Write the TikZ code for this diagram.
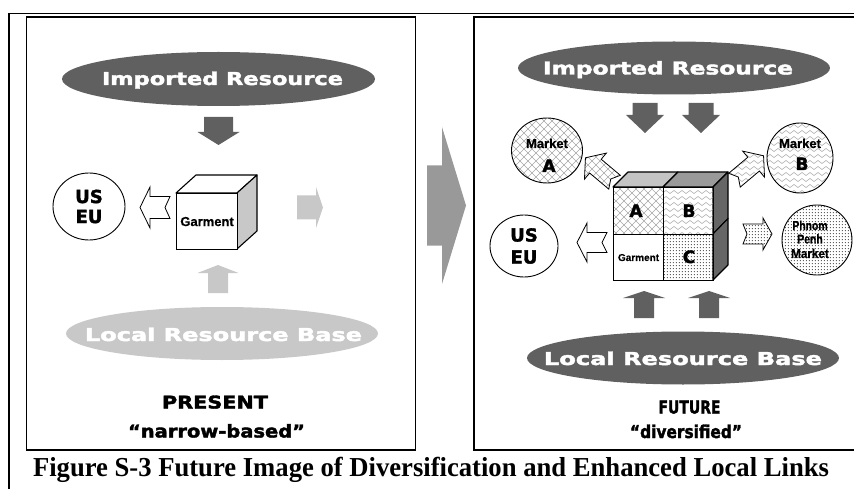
\documentclass[tikz,border=0pt]{standalone}
\usepackage{graphicx}
\usepackage{fontspec}
\setmainfont{Liberation Serif}
\newfontfamily\hvfont{DejaVu Sans}[BoldFeatures={FakeBold=2}]
\newfontfamily\arfont{Liberation Sans}[BoldFeatures={FakeBold=0.6}]
\usetikzlibrary{shapes.geometric,patterns.meta}
\definecolor{dgray}{HTML}{606060}
\definecolor{lgray}{HTML}{C8C8C8}
\definecolor{mgray}{HTML}{999999}
\definecolor{tgray}{HTML}{C4C4C4}
\definecolor{sgray}{HTML}{9A9A9A}
\definecolor{rgray}{HTML}{666666}
\newcommand\hv{\hvfont\bfseries}
\newcommand\arb{\arfont\bfseries}
\newcommand\fitbox[3]{\resizebox{#1pt}{#2pt}{#3}}
% block arrow: style, center, rotation, length, head length, shaft half, head half, notch
\newcommand\barrow[8]{\path[#1,shift={#2},rotate=#3] ({-#4/2},{-#6}) -- ({#4/2-#5},{-#6}) -- ({#4/2-#5},{-#7}) -- ({#4/2},0) -- ({#4/2-#5},{#7}) -- ({#4/2-#5},{#6}) -- ({-#4/2},{#6}) -- ({-#4/2+#8},0) -- cycle;}
\tikzdeclarepattern{
  name=xhatch,
  type=uncolored,
  bottom left={(-.1pt,-.1pt)},
  top right={(8.1pt,8.1pt)},
  tile size={(8pt,8pt)},
  code={\draw[line width=0.45pt] (0,0) -- (8pt,8pt) (0,8pt) -- (8pt,0);}
}
\tikzdeclarepattern{
  name=waves,
  type=uncolored,
  bottom left={(-.1pt,-.1pt)},
  top right={(8.1pt,6.1pt)},
  tile size={(8pt,6pt)},
  code={\draw[line width=0.45pt] (0,3pt) sin (2pt,4.5pt) cos (4pt,3pt) sin (6pt,1.5pt) cos (8pt,3pt);}
}
\tikzdeclarepattern{
  name=fdots,
  type=uncolored,
  bottom left={(0pt,0pt)},
  top right={(2.8pt,2.8pt)},
  tile size={(2.8pt,2.8pt)},
  code={\fill (1.4pt,1.4pt) circle (0.55pt);}
}
\tikzset{
  pan/.style={draw=black, line width=1.3pt},
  bigell/.style={ellipse, inner sep=0pt, minimum width=313pt, minimum height=54pt},
  elltext/.style={anchor=base, inner sep=0pt, text=white},
  mkt/.style={ellipse, draw=black, line width=0.9pt, inner sep=0pt},
  cubeln/.style={draw=black, line width=1.1pt, line join=round},
  cell/.style={rectangle, draw=black, line width=1.1pt, inner sep=0pt, anchor=north west},
  hollow/.style={draw=black, fill=white, line width=0.8pt, line join=miter},
  patarrow/.style={draw=black, line width=0.8pt},
  lbl/.style={anchor=base, inner sep=0pt},
}
\begin{document}
\begin{tikzpicture}[x=1pt,y=-1pt]
\useasboundingbox (0,0) rectangle (854,489);
% outer frame and panels
\draw[pan] (9,489) -- (9,13.5) -- (856,13.5);
\draw[pan] (26.5,17) rectangle (415.5,450);
\draw[pan] (474,17) rectangle (858,450);

% ===== LEFT PANEL =====
\node[bigell, fill=dgray] (impL) at (218.5,79) {};
\node[elltext] (impLt) at (222.5,85) {\fitbox{241}{13.5}{\hv Imported Resource}};
\barrow{fill=dgray}{(218.5,131)}{-90}{28}{13}{14.5}{21}{0}

\node[mkt, minimum width=72pt, minimum height=67pt, align=center,
      font=\hv\fontsize{18}{20}\selectfont] (useuL) at (89,206.5) {US\\EU};
\barrow{hollow}{(155,207.5)}{180}{30}{10}{11}{20.5}{5}

% left cube
\filldraw[cubeln, fill=white] (176,193) -- (196,175) -- (257,175) -- (237,193) -- cycle;
\filldraw[cubeln, fill=lgray] (237,193) -- (257,175) -- (257,231) -- (237,249) -- cycle;
\node[cell, fill=white, minimum width=61pt, minimum height=56pt,
      font=\arb\fontsize{13}{13}\selectfont] (garL) at (176,193) {Garment};

\barrow{fill=lgray}{(310,207.5)}{0}{26}{7}{12}{20.5}{0}
\barrow{fill=lgray}{(218,279)}{90}{28}{8}{10}{20.5}{0}

\node[bigell, fill=lgray, minimum width=312pt, minimum height=53pt] (locL) at (222,333.5) {};
\node[elltext] (locLt) at (223.5,341) {\fitbox{277}{13.5}{\hv Local Resource Base}};

\node[lbl] (present) at (215,408.5) {\fitbox{106}{13}{\hv PRESENT}};
\node[lbl] (narrow) at (216.5,437.5) {\fitbox{177}{13.5}{\hv “narrow-based”}};

% big middle arrow
\barrow{fill=mgray}{(446.5,205.5)}{0}{39}{24}{40}{78.5}{0}

% ===== RIGHT PANEL =====
\node[bigell, fill=dgray, minimum width=312pt, minimum height=53pt] (impR) at (674,68) {};
\node[elltext] (impRt) at (668,74.5) {\fitbox{250}{13.5}{\hv Imported Resource}};
\barrow{fill=dgray}{(645,118)}{-90}{30}{18}{12.5}{19}{0}
\barrow{fill=dgray}{(701,118)}{-90}{30}{18}{12.5}{19}{0}

% markets
\node[mkt, minimum width=71pt, minimum height=65pt, pattern=xhatch, pattern color=gray!70] (mktA) at (547,150.5) {};
\node[lbl, font=\arb\fontsize{13}{13}\selectfont] (mktAt) at (547,148) {Market};
\node[lbl, font=\hv\fontsize{17}{17}\selectfont] (mktAl) at (549,172) {A};

\node[mkt, minimum width=66pt, minimum height=70pt, pattern=waves, pattern color=gray!80] (mktB) at (800,158) {};
\node[lbl, font=\arb\fontsize{13}{13}\selectfont] (mktBt) at (800,148) {Market};
\node[lbl, font=\hv\fontsize{17}{17}\selectfont] (mktBl) at (802,170) {B};

\node[mkt, minimum width=70pt, minimum height=70pt, pattern=fdots, pattern color=black!85] (pp) at (817,240) {};
\node[lbl, font=\arb\fontsize{13}{13}\selectfont] (pp1) at (810,230) {\scalebox{0.8}[1]{Phnom}};
\node[lbl, font=\arb\fontsize{13}{13}\selectfont] (pp2) at (810,243.5) {\scalebox{0.8}[1]{Penh}};
\node[lbl, font=\arb\fontsize{13}{13}\selectfont] (pp3) at (810,258) {\scalebox{0.9}[1]{Market}};

\node[mkt, minimum width=68pt, minimum height=62pt, align=center,
      font=\hv\fontsize{18}{22}\selectfont] (useuR) at (524,246) {US\\EU};

% arrows around right cube
\barrow{hollow}{(592,242.5)}{180}{30}{10}{10}{19.5}{5}
\barrow{patarrow, pattern=xhatch, pattern color=gray!70}{(600,170)}{140}{38}{13}{9}{17}{5}
\barrow{patarrow, pattern=waves, pattern color=gray!80}{(749,168)}{40}{38}{13}{9}{17}{5}
\barrow{patarrow, pattern=fdots, pattern color=black!85}{(757.5,234)}{0}{29}{9}{10}{16}{4}

% right cube
\filldraw[cubeln, fill=tgray] (613,187) -- (628,172) -- (678,172) -- (663,187) -- cycle;
\filldraw[cubeln, fill=sgray] (663,187) -- (678,172) -- (728,172) -- (713,187) -- cycle;
\filldraw[cubeln, fill=rgray] (713,187) -- (728,172) -- (728,218.5) -- (713,234) -- cycle;
\filldraw[cubeln, fill=rgray] (713,234) -- (728,218.5) -- (728,265) -- (713,280) -- cycle;
\node[cell, minimum width=50pt, minimum height=47pt, pattern=xhatch, pattern color=gray!70] (cA) at (613,187) {};
\node[cell, minimum width=50pt, minimum height=47pt, pattern=waves, pattern color=gray!80] (cB) at (663,187) {};
\node[cell, fill=white, minimum width=50pt, minimum height=46pt,
      font=\arb\fontsize{10}{10}\selectfont] (cG) at (613,234) {Garment};
\node[cell, minimum width=50pt, minimum height=46pt, pattern=fdots, pattern color=black!85] (cC) at (663,234) {};
\node[lbl, font=\hv\fontsize{17}{17}\selectfont] (cAt) at (636,217) {A};
\node[lbl, font=\hv\fontsize{17}{17}\selectfont] (cBt) at (689,217) {B};
\node[lbl, font=\hv\fontsize{17}{17}\selectfont] (cCt) at (689,263) {C};

\barrow{fill=dgray}{(644,304.5)}{90}{27}{7}{10}{21}{0}
\barrow{fill=dgray}{(709,304.5)}{90}{27}{7}{10}{21}{0}

\node[bigell, fill=dgray, minimum width=312pt, minimum height=53pt] (locR) at (683,358) {};
\node[elltext] (locRt) at (683,365) {\fitbox{278}{13.5}{\hv Local Resource Base}};

\node[lbl] (future) at (689.5,413.5) {\fitbox{62}{13}{\hv FUTURE}};
\node[lbl] (divers) at (686,438) {\fitbox{112}{13.5}{\hv “diversified”}};

% caption
\node[lbl] (caption) at (431,476.5) {\fitbox{796}{19.3}{\bfseries Figure S-3 Future Image of Diversification and Enhanced Local Links}};
\end{tikzpicture}
\end{document}
